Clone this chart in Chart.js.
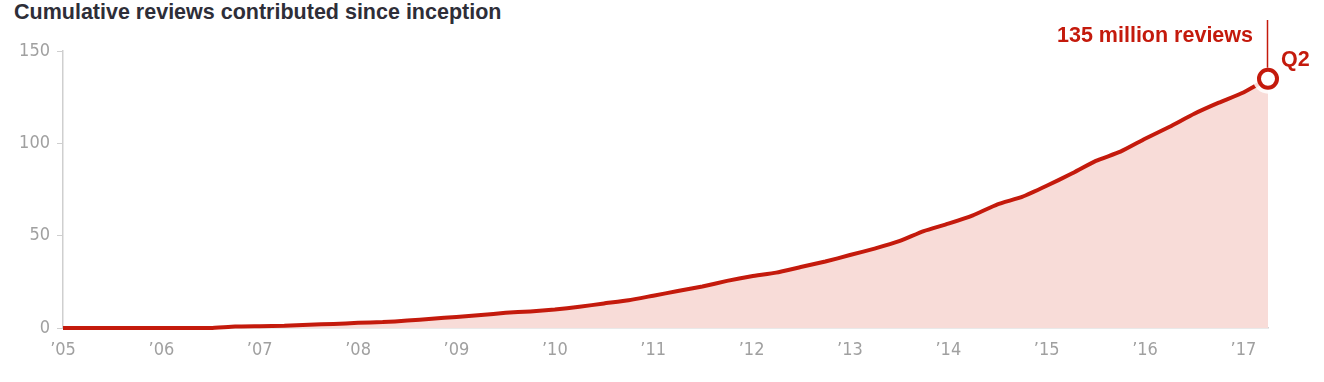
<!DOCTYPE html>
<html lang="en">
<head>
    <meta charset="UTF-8">
    <title>Cumulative reviews</title>
    <script src="https://cdn.jsdelivr.net/npm/chart.js"></script>
    <style>
        body {
            margin: 0;
            padding: 0;
            background: #fff;
            font-family: "Liberation Sans", Arial, sans-serif;
        }
        #wrap {
            position: relative;
            width: 1324px;
            height: 382px;
        }
        h1 {
            position: absolute;
            left: 14px;
            top: -1px;
            margin: 0;
            font-size: 21.5px;
            font-weight: bold;
            color: #2e2e38;
            line-height: 26px;
        }
        canvas {
            position: absolute;
            left: 0;
            top: 0;
        }
    </style>
</head>
<body>
<div id="wrap">
    <h1>Cumulative reviews contributed since inception</h1>
    <canvas id="reviewsChart" width="1324" height="382"></canvas>
</div>
<script>
    // quarters from 2005 Q1 to 2017 Q2
    const years = ['05', '06', '07', '08', '09', '10', '11', '12', '13', '14', '15', '16', '17'];
    const quarters = [];
    years.forEach(y => ['Q1', 'Q2', 'Q3', 'Q4'].forEach(q => quarters.push(y + ' ' + q)));
    quarters.splice(50); // data stops at '17 Q2

    // cumulative reviews, millions
    const reviews = [
        0, 0, 0, 0, 0, 0, 0, 0.8, 1.0, 1.2,
        1.8, 2.2, 2.8, 3.2, 4.0, 5.0, 6.0, 7.0, 8.2, 9.0,
        10.0, 11.5, 13.3, 15.0, 17.5, 20.0, 22.5, 25.5, 28.0, 30.0,
        33.0, 36.0, 39.5, 43.0, 47.0, 52.5, 56.5, 61.0, 67.0, 71.0,
        77.0, 83.5, 90.5, 95.5, 102.5, 109.0, 116.0, 122.0, 127.5, 135
    ];
    const yTicks = [0, 50, 100, 150];
    const calloutText = '135 million reviews';
    const calloutQuarter = 'Q2';

    const red = '#c41a0c';
    const tickFont = { family: '"Liberation Sans Narrow", "Arial Narrow", "DejaVu Sans Condensed", sans-serif', size: 18 };
    const last = reviews.length - 1;
    const markerOnly = reviews.map((v, i) => i === last ? v : null);

    const callout = {
        id: 'callout',
        beforeDatasetDraw(chart, args) {
            // white halo under the end marker
            if (args.index !== 1) return;
            const { ctx, scales } = chart;
            const x = scales.x.getPixelForValue(last);
            const y = scales.y.getPixelForValue(reviews[last]);
            ctx.save();
            ctx.fillStyle = 'rgba(255,255,255,0.85)';
            ctx.beginPath();
            ctx.arc(x, y, 15, 0, Math.PI * 2);
            ctx.fill();
            ctx.restore();
        },
        afterDatasetsDraw(chart) {
            const { ctx, scales } = chart;
            const x = scales.x.getPixelForValue(last);
            const y = scales.y.getPixelForValue(reviews[last]);
            ctx.save();
            ctx.strokeStyle = red;
            ctx.lineWidth = 1.5;
            ctx.beginPath();
            ctx.moveTo(x - 0.5, 20);
            ctx.lineTo(x - 0.5, y - 11);
            ctx.stroke();
            ctx.fillStyle = red;
            ctx.font = 'bold 21.5px "Liberation Sans", Arial, sans-serif';
            ctx.textAlign = 'right';
            ctx.textBaseline = 'alphabetic';
            ctx.fillText(calloutText, x - 15, 42);
            ctx.textAlign = 'left';
            ctx.fillText(calloutQuarter, x + 13, 66);
            ctx.restore();
        }
    };

    new Chart(document.getElementById('reviewsChart'), {
        type: 'line',
        data: {
            labels: quarters,
            datasets: [{
                data: reviews,
                borderColor: red,
                borderWidth: 4,
                backgroundColor: '#f8dcd8',
                fill: 'origin',
                pointRadius: 0,
                tension: 0.15,
                clip: 6,
                order: 1
            }, {
                data: markerOnly,
                showLine: false,
                pointRadius: 9,
                pointBorderWidth: 4,
                pointBorderColor: red,
                pointBackgroundColor: '#fff',
                clip: 20,
                order: 0
            }]
        },
        options: {
            responsive: false,
            animation: false,
            events: [],
            layout: { padding: { top: 51, right: 56, left: 0, bottom: 0 } },
            plugins: {
                legend: { display: false },
                tooltip: { enabled: false }
            },
            scales: {
                x: {
                    offset: false,
                    grid: { display: false, drawTicks: false },
                    border: { color: '#d4d4d4', width: 1.5 },
                    ticks: {
                        autoSkip: false,
                        maxRotation: 0,
                        padding: 12,
                        color: '#a0a0a0',
                        font: tickFont,
                        callback: (v, i) => quarters[i].endsWith('Q1') ? '\u2019' + quarters[i].slice(0, 2) : ''
                    },
                    afterFit: s => { s.height = 54; }
                },
                y: {
                    min: 0,
                    max: 150,
                    afterBuildTicks: s => { s.ticks = yTicks.map(v => ({ value: v })); },
                    grid: { drawOnChartArea: false, tickLength: 6, color: '#cfcfcf' },
                    border: { color: '#cfcfcf', width: 1.5 },
                    ticks: {
                        padding: 7,
                        color: '#a0a0a0',
                        font: tickFont
                    },
                    afterFit: s => { s.width = 63; }
                }
            }
        },
        plugins: [callout]
    });
</script>
</body>
</html>
